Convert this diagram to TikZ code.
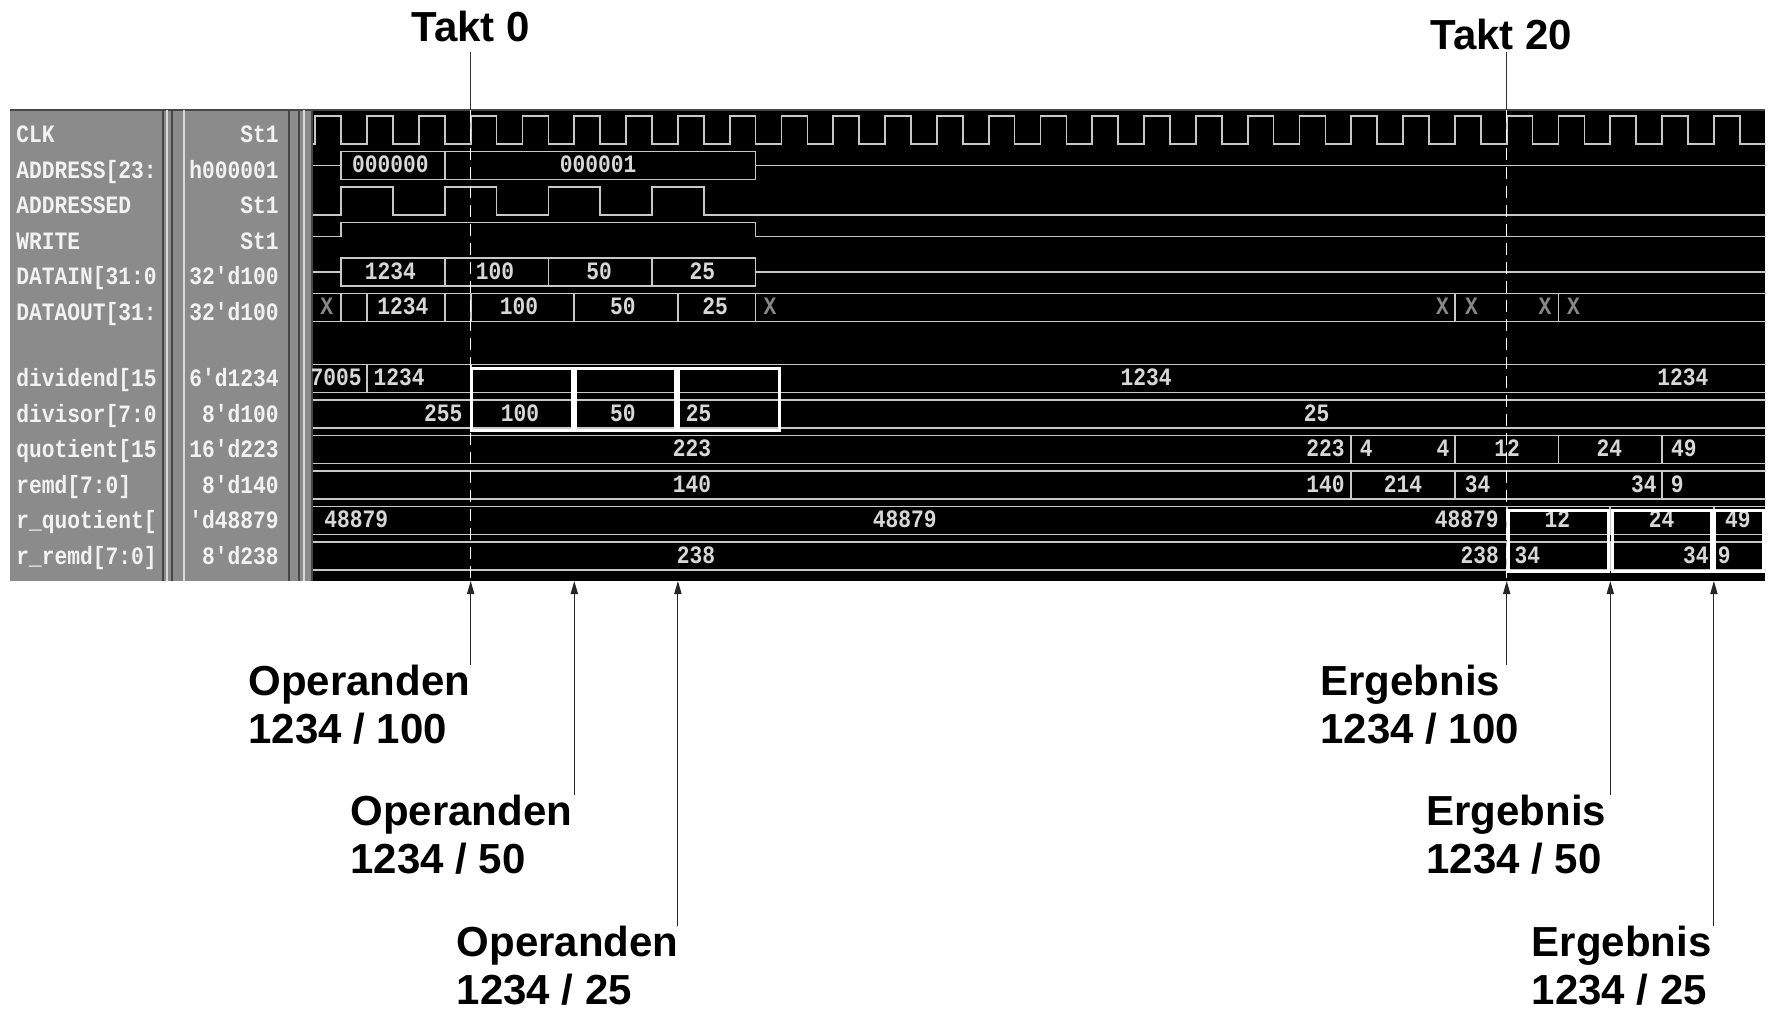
\documentclass[tikz,border=0pt]{standalone}
\usepackage{fontspec}
\usetikzlibrary{arrows.meta, positioning, calc}
\newfontfamily\wavefont[FakeStretch=0.85]{Liberation Mono}
\newfontfamily\notefont{Liberation Sans}
\definecolor{panelgray}{RGB}{139,139,139}
\definecolor{paneltext}{RGB}{242,242,242}
\definecolor{wavegray}{RGB}{200,200,200}
\definecolor{wavetext}{RGB}{215,215,215}
\definecolor{xgray}{RGB}{135,135,135}
\definecolor{rimgray}{RGB}{70,70,70}
\tikzset{
  wave/.style={draw=wavegray, line width=0.85pt},
  hilite/.style={draw=white, line width=1.5pt},
  val/.style={text=wavetext, font=\wavefont\bfseries\fontsize{12.5}{14}\selectfont,
              inner sep=0pt, anchor=base},
  xval/.style={val, text=xgray},
  sig/.style={text=paneltext, font=\wavefont\bfseries\fontsize{12.5}{14}\selectfont,
              inner sep=0pt, anchor=base west},
  sigval/.style={sig, anchor=base east},
  note/.style={font=\notefont\bfseries\fontsize{21}{24}\selectfont,
               align=left, inner sep=0pt, anchor=north west},
  takt/.style={font=\notefont\bfseries\fontsize{21}{24}\selectfont,
               inner sep=0pt, anchor=base},
  markarr/.style={draw=black!85, line width=0.55pt,
                  -{Triangle[length=6.5pt,width=3.6pt]}},
  taktpin/.style={draw=black!80, line width=0.6pt},
  taktline/.style={draw=white, line width=0.75pt, dash pattern=on 6pt off 3.5pt},
}

\begin{document}
\begin{tikzpicture}[x=0.5pt, y=-0.5pt]
  \useasboundingbox (0,0) rectangle (1771,1017);
  %% Panels of the waveform window
  \fill[panelgray] (10,110) rectangle (313,581);
  \fill[black] (313,110) rectangle (1765,581);
  \draw[rimgray, line width=1.2pt] (10,110) -- (1765,110);
  \foreach \x in {163,172,289,299,312}
    \draw[rimgray, line width=0.7pt] (\x,110) -- (\x,581);
  \foreach \x in {167,184,304}
    \draw[gray!30, line width=0.6pt] (\x,110) -- (\x,581);
  %% Signal names and cursor values
  \begin{scope}
    \clip (10,110) rectangle (160,581);
    \foreach \y/\name [count=\i] in {142.5/CLK, 178/ADDRESS[23:, 213.5/ADDRESSED,
        249/WRITE, 284.5/DATAIN[31:0, 320/DATAOUT[31:, 386.5/dividend[15,
        422/divisor[7:0, 457.5/quotient[15, 493/remd[7:0], 528.5/r\_quotient[,
        564/r\_remd[7:0]}
      \node[sig] (name\i) at (16,\y) {\name};
  \end{scope}
  \foreach \y/\val [count=\i] in {142.5/St1, 178/h000001, 213.5/St1, 249/St1,
      284.5/32'd100, 320/32'd100, 386.5/6'd1234, 422/8'd100, 457.5/16'd223,
      493/8'd140, 528.5/'d48879, 564/8'd238}
    \node[sigval] (cur\i) at (279,\y) {\val};
  %% Waves, x in clock cycles from Takt 0
  \begin{scope}[shift={(470.7,0)}, x=25.9pt]
    \clip (-3.05,110) rectangle (25,581);
    % CLK
    \draw[wave] (-3.05,144) \foreach \n in {-3,...,24}
      { -- (\n,144) -- (\n,116) -- (\n+0.5,116) -- (\n+0.5,144) } -- (25,144);
    % ADDRESSED, WRITE
    \draw[wave] (-3.05,215) \foreach \n in {-2.5,-0.5,1.5,3.5}
      { -- (\n,215) -- (\n,187) -- (\n+1,187) -- (\n+1,215) } -- (25,215);
    \draw[wave] (-3.05,236.5) -- (-2.5,236.5) -- (-2.5,222.5) -- (5.5,222.5)
      -- (5.5,236.5) -- (25,236.5);
    % ADDRESS, DATAIN
    \foreach \y/\seps in {165.5/{-0.5}, 272/{-0.5,1.5,3.5}} {
      \draw[wave] (-3.05,\y) -- (-2.5,\y) (5.5,\y) -- (25,\y);
      \draw[wave] (-2.5,\y-14) rectangle (5.5,\y+14);
      \foreach \s in \seps \draw[wave] (\s,\y-14) -- (\s,\y+14);
    }
    % full width busses
    \foreach \y/\seps in {307.5/{-2.5,-2,-0.5,0,2,4,5.5,19,21}, 378.5/{-2,0},
        414/{0,2,4}, 449.5/{17,19,21,23}, 485/{17,19,23}, 520.5/{20,22,24},
        556/{20,22,24}} {
      \draw[wave] (-3.05,\y-14) -- (25,\y-14) (-3.05,\y+14) -- (25,\y+14);
      \foreach \s in \seps \draw[wave] (\s,\y-14) -- (\s,\y+14);
    }
    % values
    \foreach \x/\y/\t [count=\i] in {-1.55/165.5/000000, 2.46/165.5/000001,
        -1.55/272/1234, 0.47/272/100, 2.48/272/50, 4.47/272/25,
        -1.31/307.5/1234, 0.93/307.5/100, 2.94/307.5/50, 4.72/307.5/25,
        -1.38/378.5/1234, 13.04/378.5/1234, 23.4/378.5/1234,
        -0.53/414/255, 0.95/414/100, 2.94/414/50, 4.4/414/25, 16.33/414/25,
        4.27/449.5/223, 16.5/449.5/223, 17.29/449.5/4, 18.77/449.5/4,
        20.01/449.5/12, 21.98/449.5/24, 23.42/449.5/49,
        4.27/485/140, 16.5/485/140, 18.0/485/214, 19.44/485/34,
        22.65/485/34, 23.29/485/9,
        -2.21/520.5/48879, 8.38/520.5/48879, 19.23/520.5/48879,
        20.98/520.5/12, 22.99/520.5/24, 24.46/520.5/49,
        4.35/556/238, 19.48/556/238, 20.4/556/34, 23.65/556/34, 24.2/556/9}
      \node[val] (v\i) at (\x,\y+7) {\t};
    \node[val, anchor=base west] (dvd0) at (-3.1,385.5) {7005};
    \foreach \x [count=\i] in {-2.78,5.78,18.76,19.32,20.74,21.29}
      \node[xval] (x\i) at (\x,314.5) {X};
    % cursors and marks
    \coordinate (k0) at (0,51.7);   \coordinate (k20) at (20,51.7);
    \coordinate (r0) at (0,110);    \coordinate (r20) at (20,110);
    \foreach \n/\c in {0/0,2/1,4/2,20/3,22/4,24/5}
      \coordinate (m\c) at (\n,581);
    \draw[taktline] (r0) -- (m0);
    \draw[taktline] (r20) -- (m3);
    % highlighted operands and results
    \foreach \a in {0,2,4}
      \draw[hilite] (\a+0.02,368.3) rectangle (\a+1.96,430);
    \foreach \a/\b in {20.03/21.97, 22.05/23.96, 24.02/24.95}
      \draw[hilite] (\a,510) rectangle (\b,571.7);
  \end{scope}
  %% Takt labels
  \node[takt] (takt0) at (470.7,41.7) {Takt 0};
  \node[takt] (takt20) at (1501.5,49.3) {Takt 20};
  \draw[taktpin] (k0) -- (r0);
  \draw[taktpin] (k20) -- (r20);
  %% Notes below
  \node[note] (op1) at (248,665) {Operanden\\1234 / 100};
  \node[note] (op2) at (350,795) {Operanden\\1234 / 50};
  \node[note] (op3) at (456.5,926) {Operanden\\1234 / 25};
  \node[note] (erg1) at (1320,665) {Ergebnis\\1234 / 100};
  \node[note] (erg2) at (1426,795) {Ergebnis\\1234 / 50};
  \node[note] (erg3) at (1531.5,926) {Ergebnis\\1234 / 25};
  \foreach \n/\m in {op1/m0, op2/m1, op3/m2, erg1/m3, erg2/m4, erg3/m5}
    \draw[markarr] (\m |- \n.north) -- (\m);
\end{tikzpicture}
\end{document}
